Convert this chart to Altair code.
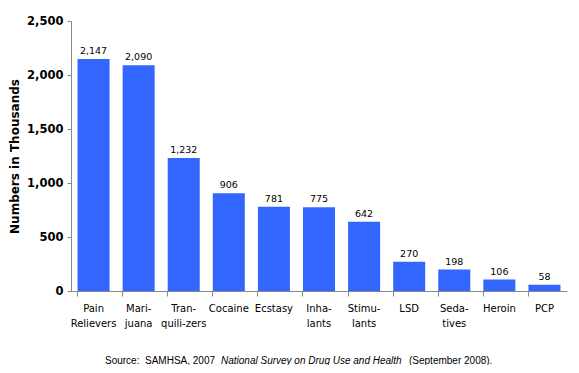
import altair as alt
import pandas as pd

categories = ["Pain\nRelievers", "Mari-\njuana", "Tran-\nquili-zers", "Cocaine", "Ecstasy",
              "Inha-\nlants", "Stimu-\nlants", "LSD", "Seda-\ntives", "Heroin", "PCP"]
values = [2147, 2090, 1232, 906, 781, 775, 642, 270, 198, 106, 58]
y_ticks = [0, 500, 1000, 1500, 2000, 2500]
source_parts = ["Source:\u00a0 SAMHSA, 2007", "National Survey on Drug Use and Health", "(September 2008)."]

df = pd.DataFrame({"cat": categories, "val": values})

FONT = "DejaVu Sans"
SFONT = "Liberation Sans"
W, H = 496, 270

x = alt.X("cat:N", sort=categories, title=None,
          scale=alt.Scale(paddingInner=0.29, paddingOuter=0.145),
          axis=alt.Axis(labelAngle=0, labelExpr="split(datum.label, '\\n')",
                        labelFont=FONT, labelFontSize=10, labelColor="#000",
                        labelPadding=7, labelLineHeight=15,
                        bandPosition=0, tickSize=5, tickColor="#888",
                        domainColor="#888", labelBaseline="top"))
y = alt.Y("val:Q", title="Numbers in Thousands",
          scale=alt.Scale(domain=[0, 2500], nice=False),
          axis=alt.Axis(values=y_ticks, format=",d", grid=False,
                        labelFont=FONT, labelFontWeight="bold", labelFontSize=11.5,
                        labelColor="#000", tickSize=4, tickColor="#888",
                        domainColor="#888", labelPadding=4,
                        titleFont=FONT, titleFontSize=12, titleFontWeight="bold",
                        titleColor="#000", titlePadding=5))

bars = alt.Chart(df).mark_bar(color="#3366FF").encode(x=x, y=y)
labels = alt.Chart(df).mark_text(font=FONT, fontSize=9.5, dy=-8, color="#000").encode(
    x=alt.X("cat:N", sort=categories), y="val:Q", text=alt.Text("val:Q", format=","))

SY = 340
s1 = alt.Chart(pd.DataFrame({"t": [source_parts[0]]})).mark_text(
    font=SFONT, fontSize=10, align="left", color="#000").encode(
    x=alt.value(34), y=alt.value(SY), text="t:N")
s2 = alt.Chart(pd.DataFrame({"t": [source_parts[1]]})).mark_text(
    font=SFONT, fontSize=10, align="left", fontStyle="italic", color="#000").encode(
    x=alt.value(150), y=alt.value(SY), text="t:N")
s3 = alt.Chart(pd.DataFrame({"t": [source_parts[2]]})).mark_text(
    font=SFONT, fontSize=10, align="left", color="#000").encode(
    x=alt.value(338), y=alt.value(SY), text="t:N")

chart = alt.layer(bars, labels, s1, s2, s3).properties(
    width=W, height=H,
    autosize=alt.AutoSizeParams(type="none"),
    padding={"left": 63, "top": 13, "right": 4, "bottom": 74},
).configure_view(stroke=None)

chart.save("out.html", embed_options={"renderer": "svg", "actions": False})
